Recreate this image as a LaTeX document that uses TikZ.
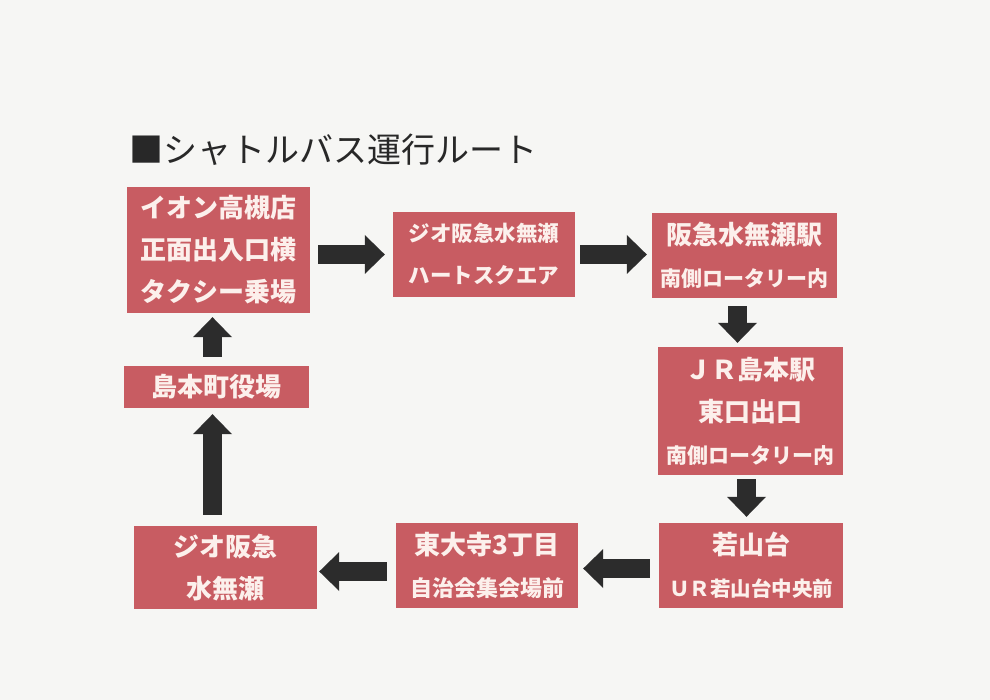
\documentclass[tikz,border=0pt]{standalone}
\usepackage{fontspec}
\newfontfamily\jp{Noto Sans CJK JP}
\usetikzlibrary{arrows.meta}

\definecolor{paper}{RGB}{246,246,244}
\definecolor{stopred}{RGB}{200,92,98}
\definecolor{stoptext}{RGB}{252,240,236}
\definecolor{arrowgray}{RGB}{44,44,44}
\definecolor{titlegray}{RGB}{40,40,40}

\newcommand{\subline}[1]{\fontsize{#1}{42}\selectfont}

\tikzset{
  stopbox/.style={fill=stopred, text=stoptext, inner sep=0pt, align=center,
    font=\jp\bfseries\fontsize{26}{42}\selectfont},
  blockarrow/.style={draw=arrowgray, line width=19pt,
    -{Triangle[length=20pt,width=39pt,line width=0pt]}}
}

\begin{document}
\begin{tikzpicture}[x=1pt, y=-1pt]

\fill[paper] (0,0) rectangle (990,700);

\node[anchor=west, inner sep=0pt, text=titlegray, font=\jp\fontsize{34}{38}\selectfont] (title) at (129,150) {■シャトルバス運行ルート};

\node[stopbox, minimum width=183pt, minimum height=126pt] (aeon) at (218.5,250) {イオン高槻店\\正面出入口横\\タクシー乗場};
\node[stopbox, minimum width=182pt, minimum height=85pt] (geo) at (484,254.5) {\subline{21.5}ジオ阪急水無瀬\\\subline{21.5}ハートスクエア};
\node[stopbox, minimum width=185pt, minimum height=85pt] (mizunase) at (744.5,255.5) {阪急水無瀬駅\\\subline{21}南側ロータリー内};
\node[stopbox, minimum width=185pt, minimum height=128pt] (jr) at (750.5,411) {ＪＲ島本駅\\東口出口\\\subline{21}南側ロータリー内};
\node[stopbox, minimum width=184pt, minimum height=85pt] (waka) at (751,565.5) {若山台\\\subline{20.5}ＵＲ若山台中央前};
\node[stopbox, minimum width=182pt, minimum height=85pt] (todaiji) at (487,565.5) {東大寺3丁目\\\subline{22}自治会集会場前};
\node[stopbox, minimum width=183pt, minimum height=83pt] (geo2) at (225.5,567.5) {ジオ阪急\\水無瀬};
\node[stopbox, minimum width=185pt, minimum height=42pt] (yakuba) at (216.5,387) {島本町役場};

% route
\draw[blockarrow, shorten <=8pt, shorten >=8pt] (aeon.east |- geo.west) -- (geo.west);
\draw[blockarrow, shorten <=5pt, shorten >=5pt] (geo.east) -- (geo.east -| mizunase.west);
\draw[blockarrow, shorten <=8pt, shorten >=4pt] ([xshift=-7pt]mizunase.south) -- ([xshift=-7pt]mizunase.south |- jr.north);
\draw[blockarrow, shorten <=4pt, shorten >=6pt] ([xshift=-4pt]jr.south) -- ([xshift=-4pt]jr.south |- waka.north);
\draw[blockarrow, shorten <=9pt, shorten >=5pt] ([yshift=-3pt]waka.west) -- ([yshift=-3pt]waka.west -| todaiji.east);
\draw[blockarrow, shorten <=9pt, shorten >=2pt] ([yshift=-6pt]todaiji.west) -- ([yshift=-6pt]todaiji.west -| geo2.east);
\draw[blockarrow, shorten <=11pt, shorten >=6pt] ([xshift=-4pt]yakuba.south |- geo2.north) -- ([xshift=-4pt]yakuba.south);
\draw[blockarrow, shorten <=9pt, shorten >=4pt] ([xshift=-4pt]yakuba.north) -- ([xshift=-4pt]yakuba.north |- aeon.south);

\end{tikzpicture}
\end{document}
